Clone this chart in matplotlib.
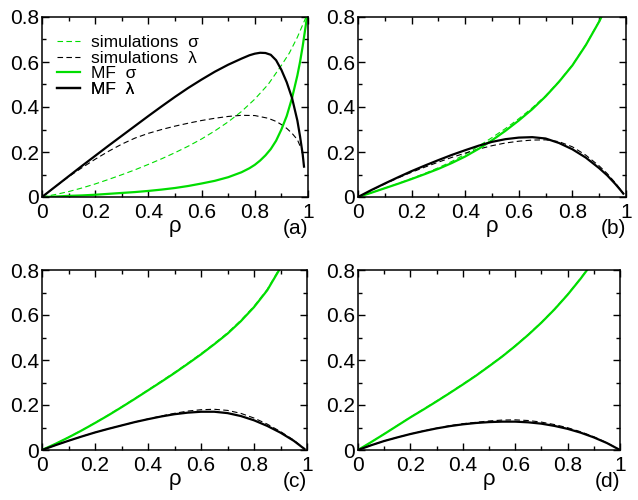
import matplotlib
matplotlib.use("Agg")
import matplotlib.pyplot as plt
from matplotlib.ticker import MultipleLocator, FuncFormatter

plt.rcParams['font.family'] = ['Liberation Sans', 'DejaVu Sans']

# ---------------- data ----------------
# Panel (a)
rho_a_mfl = [0, 0.05, 0.1, 0.15, 0.2, 0.25, 0.3, 0.35, 0.4, 0.45, 0.5, 0.55, 0.6, 0.65, 0.7, 0.75,
             0.78, 0.8, 0.82, 0.84, 0.86, 0.88, 0.9, 0.92, 0.94, 0.96, 0.97, 0.98, 0.985]
mf_lam_a = [0, 0.046, 0.092, 0.138, 0.183, 0.228, 0.272, 0.316, 0.36, 0.403, 0.445, 0.485, 0.522, 0.557,
            0.588, 0.615, 0.63, 0.637, 0.641, 0.64, 0.632, 0.608, 0.565, 0.51, 0.44, 0.34, 0.27, 0.19, 0.135]
rho_a_mfs = [0, 0.05, 0.1, 0.15, 0.2, 0.25, 0.3, 0.35, 0.4, 0.45, 0.5, 0.55, 0.6, 0.65, 0.7, 0.75,
             0.78, 0.8, 0.82, 0.84, 0.86, 0.88, 0.9, 0.92, 0.94, 0.96, 0.97, 0.98, 0.99, 1.0]
mf_sig_a = [0, 0.002, 0.005, 0.007, 0.01, 0.014, 0.018, 0.022, 0.027, 0.033, 0.04, 0.049, 0.06, 0.072,
            0.088, 0.11, 0.128, 0.143, 0.162, 0.185, 0.213, 0.25, 0.3, 0.36, 0.44, 0.54, 0.6, 0.67, 0.75, 0.83]
rho_a_sl = [0, 0.05, 0.1, 0.15, 0.2, 0.25, 0.3, 0.35, 0.4, 0.45, 0.5, 0.55, 0.6, 0.65, 0.7, 0.75,
            0.8, 0.85, 0.88, 0.9, 0.92, 0.94, 0.96, 0.98]
sim_lam_a = [0, 0.046, 0.09, 0.13, 0.168, 0.203, 0.235, 0.262, 0.283, 0.3, 0.315, 0.328, 0.34, 0.35,
             0.358, 0.363, 0.362, 0.35, 0.336, 0.322, 0.305, 0.283, 0.255, 0.2]
rho_a_ss = [0, 0.05, 0.1, 0.15, 0.2, 0.25, 0.3, 0.35, 0.4, 0.45, 0.5, 0.55, 0.6, 0.65, 0.7, 0.75,
            0.8, 0.85, 0.9, 0.93, 0.96, 0.98, 1.0]
sim_sig_a = [0, 0.011, 0.024, 0.04, 0.058, 0.078, 0.099, 0.121, 0.145, 0.17, 0.197, 0.226, 0.258, 0.294,
             0.334, 0.38, 0.435, 0.5, 0.585, 0.64, 0.71, 0.765, 0.82]

# Panel (b)
rho_b = [0, 0.05, 0.1, 0.15, 0.2, 0.25, 0.3, 0.35, 0.4, 0.45, 0.5, 0.55, 0.6, 0.65, 0.7, 0.75,
         0.8, 0.85, 0.9, 0.93, 0.96, 0.98, 0.99]
mf_lam_b = [0, 0.031, 0.06, 0.088, 0.115, 0.14, 0.164, 0.187, 0.208, 0.228, 0.245, 0.257, 0.264, 0.266,
            0.26, 0.24, 0.212, 0.175, 0.128, 0.096, 0.058, 0.03, 0.015]
sim_lam_b = [0, 0.03, 0.058, 0.085, 0.11, 0.133, 0.155, 0.176, 0.195, 0.213, 0.228, 0.24, 0.248, 0.253,
             0.254, 0.246, 0.223, 0.186, 0.138, 0.104, 0.063, 0.032, 0.016]
rho_b_s = [0, 0.05, 0.1, 0.15, 0.2, 0.25, 0.3, 0.35, 0.4, 0.45, 0.5, 0.55, 0.6, 0.65, 0.7, 0.75,
           0.8, 0.85, 0.9, 0.95]
mf_sig_b = [0, 0.019, 0.039, 0.059, 0.08, 0.102, 0.125, 0.151, 0.18, 0.214, 0.252, 0.294, 0.34, 0.39,
            0.447, 0.512, 0.585, 0.675, 0.78, 0.9]
sim_sig_b = [0, 0.019, 0.039, 0.06, 0.082, 0.105, 0.13, 0.158, 0.19, 0.226, 0.264, 0.304, 0.348, 0.396,
             0.45, 0.514, 0.587, 0.677, 0.782, 0.9]

# Panel (c)
rho_c = [0, 0.05, 0.1, 0.15, 0.2, 0.25, 0.3, 0.35, 0.4, 0.45, 0.5, 0.55, 0.6, 0.65, 0.7, 0.75,
         0.8, 0.85, 0.9, 0.95, 0.99]
mf_lam_c = [0, 0.021, 0.041, 0.06, 0.078, 0.094, 0.109, 0.124, 0.137, 0.149, 0.159, 0.166, 0.17, 0.17,
            0.164, 0.151, 0.132, 0.107, 0.077, 0.041, 0.005]
sim_lam_c = [0, 0.021, 0.041, 0.06, 0.078, 0.094, 0.109, 0.124, 0.138, 0.151, 0.163, 0.173, 0.179, 0.181,
             0.176, 0.163, 0.142, 0.115, 0.082, 0.044, 0.006]
rho_c_s = [0, 0.05, 0.1, 0.15, 0.2, 0.25, 0.3, 0.35, 0.4, 0.45, 0.5, 0.55, 0.6, 0.65, 0.7, 0.75,
           0.8, 0.85, 0.9]
mf_sig_c = [0, 0.027, 0.056, 0.087, 0.12, 0.154, 0.19, 0.227, 0.265, 0.303, 0.342, 0.383, 0.425, 0.47,
            0.517, 0.572, 0.635, 0.71, 0.81]
sim_sig_c = [0, 0.027, 0.057, 0.088, 0.121, 0.156, 0.192, 0.229, 0.267, 0.306, 0.345, 0.386, 0.428, 0.473,
             0.521, 0.576, 0.639, 0.714, 0.814]

# Panel (d)
rho_d = [0, 0.05, 0.1, 0.15, 0.2, 0.25, 0.3, 0.35, 0.4, 0.45, 0.5, 0.55, 0.6, 0.65, 0.7, 0.75,
         0.8, 0.85, 0.9, 0.95, 1.0]
mf_lam_d = [0, 0.021, 0.04, 0.056, 0.071, 0.084, 0.096, 0.106, 0.114, 0.12, 0.124, 0.126, 0.126, 0.123,
            0.117, 0.107, 0.094, 0.077, 0.056, 0.031, 0]
sim_lam_d = [0, 0.021, 0.04, 0.056, 0.071, 0.085, 0.097, 0.108, 0.117, 0.123, 0.129, 0.133, 0.134, 0.131,
             0.124, 0.113, 0.099, 0.081, 0.059, 0.032, 0]
rho_d_s = [0, 0.05, 0.1, 0.15, 0.2, 0.25, 0.3, 0.35, 0.4, 0.45, 0.5, 0.55, 0.6, 0.65, 0.7, 0.75,
           0.8, 0.85, 0.9]
mf_sig_d = [0, 0.035, 0.071, 0.108, 0.145, 0.18, 0.216, 0.253, 0.291, 0.33, 0.372, 0.415, 0.462, 0.512,
            0.566, 0.625, 0.69, 0.762, 0.84]
sim_sig_d = [0, 0.035, 0.072, 0.109, 0.146, 0.182, 0.218, 0.255, 0.293, 0.332, 0.374, 0.417, 0.464, 0.514,
             0.568, 0.627, 0.692, 0.764, 0.842]

panel_labels = ['(a)', '(b)', '(c)', '(d)']
legend_labels = ['simulations  σ', 'simulations  λ', 'MF  σ', 'MF  λ']

GREEN = '#00dd00'

W, H = 638, 500
fig = plt.figure(figsize=(W / 100, H / 100), dpi=100)

# axes boxes in pixels: left, top, right, bottom
boxes = [(42, 17, 308, 197), (358, 17, 626, 197), (42, 270, 307, 450), (358, 270, 620, 450)]

panels = [
    (rho_a_ss, sim_sig_a, rho_a_sl, sim_lam_a, rho_a_mfs, mf_sig_a, rho_a_mfl, mf_lam_a),
    (rho_b_s, sim_sig_b, rho_b, sim_lam_b, rho_b_s, mf_sig_b, rho_b, mf_lam_b),
    (rho_c_s, sim_sig_c, rho_c, sim_lam_c, rho_c_s, mf_sig_c, rho_c, mf_lam_c),
    (rho_d_s, sim_sig_d, rho_d, sim_lam_d, rho_d_s, mf_sig_d, rho_d, mf_lam_d),
]

def fmt(v, pos):
    if abs(v) < 1e-9:
        return '0'
    if abs(v - 1) < 1e-9:
        return '1'
    return f'{v:.1f}'

for i, (box, data) in enumerate(zip(boxes, panels)):
    l, t, r, b = box
    ax = fig.add_axes([l / W, 1 - b / H, (r - l) / W, (b - t) / H])
    xs1, ys1, xl1, yl1, xs2, ys2, xl2, yl2 = data
    h1, = ax.plot(xs1, ys1, color=GREEN, lw=0.8, ls=(0, (5, 3)), label=legend_labels[0])
    h2, = ax.plot(xl1, yl1, color='black', lw=0.8, ls=(0, (5, 3)), label=legend_labels[1])
    h3, = ax.plot(xs2, ys2, color=GREEN, lw=1.6, label=legend_labels[2])
    h4, = ax.plot(xl2, yl2, color='black', lw=1.6, label=legend_labels[3])
    ax.set_xlim(0, 1)
    ax.set_ylim(0, 0.8)
    ax.xaxis.set_major_locator(MultipleLocator(0.2))
    ax.xaxis.set_minor_locator(MultipleLocator(0.1))
    ax.yaxis.set_major_locator(MultipleLocator(0.2))
    ax.yaxis.set_minor_locator(MultipleLocator(0.1))
    ax.xaxis.set_major_formatter(FuncFormatter(fmt))
    ax.yaxis.set_major_formatter(FuncFormatter(fmt))
    ax.tick_params(which='both', direction='in', top=True, right=True, width=1, labelsize=15)
    ax.tick_params(which='major', length=5)
    ax.tick_params(which='minor', length=3)
    ax.tick_params(axis='x', pad=4)
    ax.tick_params(axis='y', pad=2)
    for s in ax.spines.values():
        s.set_linewidth(1.1)
    ax.set_xlabel('ρ', fontsize=16, labelpad=-4)
    ax.annotate(panel_labels[i], xy=(1, 0), xycoords='axes fraction', xytext=(0, -22),
                textcoords='offset pixels', ha='right', va='top', fontsize=15)
    if i == 0:
        # one single-row legend per entry, stacked with a fixed row pitch
        row_pitch = 15.5 / (b - t)
        y0 = 1 - (42.5 - t) / (b - t)
        for k, hnd in enumerate([h1, h2, h3, h4]):
            lg = ax.legend([hnd], [legend_labels[k]], loc='center left',
                           bbox_to_anchor=(0.056, y0 - k * row_pitch), frameon=False,
                           fontsize=12.5, handlelength=1.35, handletextpad=0.6,
                           borderaxespad=0, borderpad=0)
            ax.add_artist(lg)

fig.savefig('out.png', dpi=100)
